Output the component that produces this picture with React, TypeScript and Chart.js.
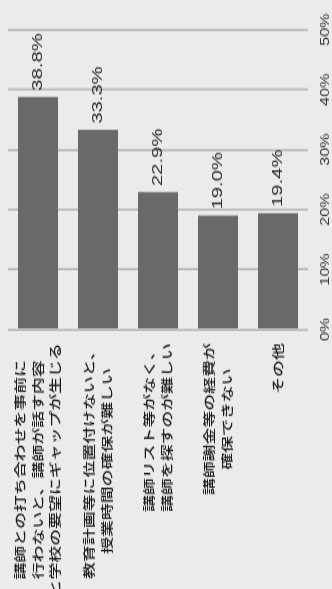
import React, { useEffect, useRef } from "react";
import { Chart, registerables } from "chart.js";

Chart.register(...registerables);

const categoryLines: string[][] = [
  ["講師との打ち合わせを事前に", "行わないと、講師が話す内容", "と学校の要望にギャップが生じる"],
  ["教育計画等に位置付けないと、", "授業時間の確保が難しい"],
  ["講師リスト等がなく、", "講師を探すのが難しい"],
  ["講師謝金等の経費が", "確保できない"],
  ["その他"],
];
const values: number[] = [38.8, 33.3, 22.9, 19.0, 19.4];
const tickValues: number[] = [0, 10, 20, 30, 40, 50];

const INNER_W = 436;
const INNER_H = 332;
const S = 589 / INNER_W;

const labelPlugin = {
  id: "rotLabels",
  afterDatasetsDraw(chart: any) {
    const ctx = chart.ctx;
    const yScale = chart.scales.y;
    const area = chart.chartArea;
    ctx.save();
    // category labels
    ctx.font = '500 12.5px "Noto Sans CJK JP", sans-serif';
    ctx.fillStyle = "#1a1a1a";
    ctx.textBaseline = "middle";
    ctx.textAlign = "center";
    const lh = 17.5;
    categoryLines.forEach((lines, i) => {
      const cy = yScale.getPixelForValue(i);
      const maxW = Math.max(...lines.map((l) => ctx.measureText(l).width));
      const right = area.left - 10;
      const cx = right - maxW / 2;
      lines.forEach((line, j) => {
        ctx.fillText(line, cx, cy + (j - (lines.length - 1) / 2) * lh);
      });
    });
    // value labels
    const meta = chart.getDatasetMeta(0);
    ctx.font = '15px "Liberation Sans", Arial, sans-serif';
    ctx.fillStyle = "#2a2a2a";
    ctx.textAlign = "left";
    meta.data.forEach((bar: any, i: number) => {
      ctx.fillText(values[i].toFixed(1) + "%", bar.x + 4.5, bar.y);
    });
    ctx.restore();
  },
};

export default function App() {
  const ref = useRef<HTMLCanvasElement | null>(null);
  useEffect(() => {
    if (!ref.current) return;
    const chart = new Chart(ref.current, {
      type: "bar",
      data: {
        labels: categoryLines.map((l) => l.join("")),
        datasets: [
          {
            data: values,
            backgroundColor: "#696969",
            borderWidth: 0,
            barPercentage: 0.667,
            categoryPercentage: 1,
          },
        ],
      },
      options: {
        indexAxis: "y",
        responsive: false,
        animation: false,
        devicePixelRatio: 1,
        layout: { padding: { top: 8, right: INNER_W - 419.7, bottom: 0, left: 0 } },
        plugins: {
          legend: { display: false },
          tooltip: { enabled: false },
        },
        scales: {
          x: {
            type: "linear",
            min: 0,
            max: 50,
            afterBuildTicks: (scale: any) => {
              scale.ticks = tickValues.map((v) => ({ value: v }));
            },
            afterFit: (scale: any) => {
              scale.height = 24;
            },
            ticks: {
              callback: (v: any) => v + "%",
              font: { size: 12, family: '"Liberation Sans", Arial, sans-serif' },
              color: "#333333",
              padding: 10,
              maxRotation: 0,
            },
            grid: { color: "#b4b4b4", lineWidth: 1.5, drawTicks: false },
            border: { display: false },
          },
          y: {
            type: "category",
            position: "left",
            ticks: { display: false },
            grid: { display: false, drawTicks: false },
            border: { display: false },
            afterFit: (scale: any) => {
              scale.width = 192.1;
            },
          },
        },
      },
      plugins: [labelPlugin],
    } as any);
    return () => chart.destroy();
  }, []);
  return (
    <div
      style={{
        position: "fixed",
        left: 0,
        top: 0,
        width: 332,
        height: 589,
        background: "#ebebeb",
        overflow: "hidden",
      }}
    >
      <div
        style={{
          position: "absolute",
          left: 0,
          top: 0,
          width: INNER_W,
          height: INNER_H,
          transformOrigin: "0 0",
          transform: `translateY(589px) rotate(-90deg) scaleX(${S})`,
        }}
      >
        <canvas
          ref={ref}
          width={INNER_W}
          height={INNER_H}
          style={{ display: "block", width: INNER_W, height: INNER_H }}
        />
      </div>
    </div>
  );
}
